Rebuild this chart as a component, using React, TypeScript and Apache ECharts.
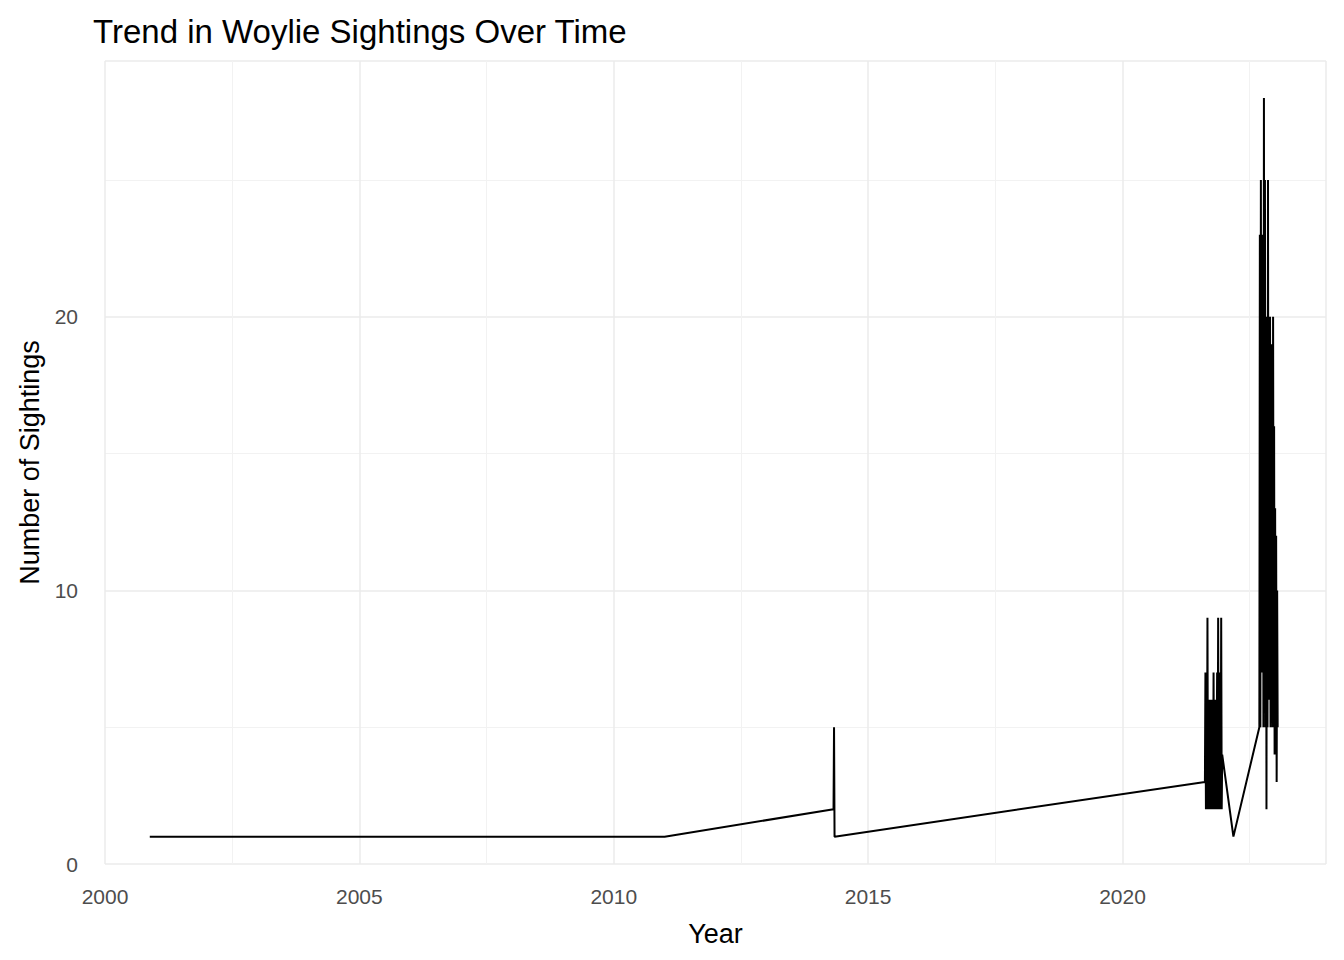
import { useEffect, useRef } from "react";
import * as echarts from "echarts";

// decimal year of each observation, and its count
const YEARS = [
  2000.88, 2011.0, 2014.32, 2014.33, 2014.34,
  2021.62, 2021.63, 2021.64, 2021.65, 2021.66, 2021.67, 2021.68, 2021.69, 2021.7, 2021.71,
  2021.72, 2021.73, 2021.74, 2021.75, 2021.76, 2021.77, 2021.78, 2021.79, 2021.8, 2021.81,
  2021.82, 2021.83, 2021.84, 2021.85, 2021.86, 2021.87, 2021.88, 2021.89, 2021.9, 2021.91,
  2021.92, 2021.93, 2021.94, 2021.95, 2021.96,
  2022.18,
  2022.69, 2022.7, 2022.71, 2022.72, 2022.73, 2022.74, 2022.75, 2022.76, 2022.77, 2022.78,
  2022.79, 2022.8, 2022.81, 2022.82, 2022.83, 2022.84, 2022.85, 2022.86, 2022.87, 2022.88,
  2022.89, 2022.9, 2022.91, 2022.92, 2022.93, 2022.94, 2022.95, 2022.96, 2022.97, 2022.98,
  2022.99, 2023.0, 2023.01, 2023.02, 2023.03, 2023.04, 2023.05,
];
const COUNTS = [
  1, 1, 2, 5, 1,
  3, 7, 2, 7, 2, 9, 2, 6, 2, 6,
  2, 6, 2, 6, 2, 6, 2, 7, 2, 6,
  2, 6, 2, 4, 7, 2, 9, 2, 6, 2,
  7, 2, 9, 2, 4,
  1,
  5, 23, 5, 25, 8, 23, 7, 23, 5, 28,
  7, 25, 5, 20, 2, 20, 5, 25, 6, 19,
  8, 20, 5, 19, 6, 18, 5, 20, 8, 16,
  4, 13, 5, 12, 3, 10, 5,
];

const X_TICKS = [2000, 2005, 2010, 2015, 2020];

export default function App() {
  const chartRef = useRef<HTMLDivElement>(null);

  useEffect(() => {
    if (!chartRef.current) return;
    const chart = echarts.init(chartRef.current, null, { renderer: "svg" });
    const font = "'Liberation Sans', Arial, sans-serif";
    const grid = { lineStyle: { color: "#ebebeb", width: 1.5 } };
    const minor = { show: true, lineStyle: { color: "#f2f2f2", width: 1 } };

    chart.setOption({
      animation: false,
      textStyle: { fontFamily: font },
      title: {
        text: "Trend in Woylie Sightings Over Time",
        left: 80,
        top: 2,
        textStyle: { fontFamily: font, fontSize: 33, fontWeight: "normal", color: "#000" },
      },
      grid: { left: 94, right: 10, top: 53, bottom: 87 },
      xAxis: {
        type: "value",
        min: 2000,
        max: 2024,
        interval: 5,
        name: "Year",
        nameLocation: "middle",
        nameGap: 56,
        nameTextStyle: { fontSize: 27, color: "#000", fontFamily: font },
        axisLine: { show: false },
        axisTick: { show: false },
        axisLabel: {
          color: "#4d4d4d",
          fontSize: 21,
          margin: 22,
          formatter: (v: number) => (X_TICKS.includes(v) ? String(v) : ""),
        },
        splitLine: { show: true, ...grid },
        minorTick: { show: false, splitNumber: 2 },
        minorSplitLine: minor,
      },
      yAxis: {
        type: "value",
        min: 0,
        max: 29.35,
        interval: 10,
        name: "Number of Sightings",
        nameLocation: "middle",
        nameGap: 62,
        nameTextStyle: { fontSize: 27, color: "#000", fontFamily: font },
        axisLine: { show: false },
        axisTick: { show: false },
        axisLabel: {
          color: "#4d4d4d",
          fontSize: 21,
          margin: 27,
          formatter: (v: number) => (v % 10 === 0 ? String(v) : ""),
        },
        splitLine: { show: true, ...grid },
        minorTick: { show: false, splitNumber: 2 },
        minorSplitLine: minor,
      },
      series: [
        {
          type: "line",
          data: YEARS.map((y, i) => [y, COUNTS[i]]),
          showSymbol: false,
          lineStyle: { color: "#000", width: 2 },
        },
      ],
    });

    return () => chart.dispose();
  }, []);

  return <div ref={chartRef} style={{ width: 1328, height: 944 }} />;
}
